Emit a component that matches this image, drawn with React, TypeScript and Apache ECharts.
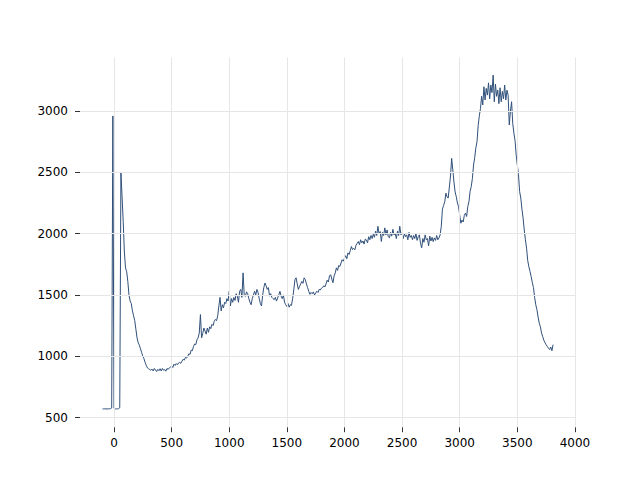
import React, { useEffect, useRef } from "react";
import * as echarts from "echarts";

const xStart = -100;
const xStep = 10;

const values: number[] = [
  570, 570, 571, 570, 570, 571, 571, 572, 578,
  2960, 575, 570, 570, 571, 572, 580, 2500, 2300, 2100,
  1850, 1720, 1690, 1610, 1500, 1450, 1430, 1370, 1330, 1290,
  1220, 1150, 1110, 1090, 1060, 1030, 1000, 980, 950, 925,
  905, 898, 892, 885, 895, 880, 900, 888, 875, 893,
  882, 898, 880, 900, 886, 892, 878, 900, 893, 905,
  912, 920, 908, 935, 925, 940, 930, 945, 950, 942,
  960, 975, 968, 990, 985, 1000, 1020, 1015, 1050, 1045,
  1080, 1100, 1095, 1135, 1150, 1190, 1340, 1150, 1185, 1230,
  1205, 1180, 1230, 1195, 1240, 1225, 1260, 1250, 1285, 1300,
  1290, 1330, 1410, 1480, 1370, 1420, 1395, 1440, 1430, 1470,
  1450, 1530, 1410, 1470, 1440, 1480, 1455, 1510, 1490, 1440,
  1530, 1545, 1480, 1680, 1500, 1488, 1525, 1510, 1470, 1440,
  1420, 1470, 1500, 1530, 1500, 1545, 1520, 1470, 1430, 1410,
  1500, 1560, 1597, 1575, 1545, 1560, 1490, 1510, 1480, 1470,
  1461, 1480, 1450, 1475, 1500, 1529, 1490, 1470, 1500, 1440,
  1420, 1406, 1430, 1400, 1420, 1415, 1470, 1540, 1624, 1640,
  1590, 1545, 1570, 1590, 1610, 1595, 1640, 1625, 1590, 1560,
  1530, 1505, 1520, 1510, 1525, 1500, 1515, 1530, 1520, 1545,
  1540, 1555, 1560, 1575, 1565, 1590, 1620, 1605, 1655, 1665,
  1630, 1600, 1655, 1680, 1721, 1700, 1740, 1732, 1760, 1787,
  1775, 1800, 1820, 1795, 1843, 1830, 1860, 1895, 1870, 1880,
  1868, 1905, 1920, 1936, 1910, 1950, 1925, 1940, 1915, 1955,
  1949, 1925, 1975, 1950, 1985, 1960, 1995, 1970, 2020, 1985,
  2060, 2000, 2017, 1936, 2010, 1985, 2047, 1990, 2030, 1975,
  1966, 2010, 1980, 2035, 1990, 2005, 1960, 2020, 1985, 2060,
  1990, 2007, 1960, 2000, 1975, 1990, 1950, 2010, 1970, 1985,
  1950, 1985, 1960, 2000, 1945, 1975, 1990, 1920, 1884, 1960,
  1930, 1990, 1950, 1960, 1900, 1980, 1940, 1970, 1935, 1965,
  1945, 1985, 1950, 1965, 1990, 2060, 2200, 2230, 2260, 2330,
  2300, 2290, 2380, 2470, 2614, 2520, 2420, 2340, 2302, 2250,
  2220, 2150, 2085, 2110, 2095, 2150, 2167, 2140, 2221, 2260,
  2345, 2384, 2450, 2560, 2620, 2700, 2750, 2880, 2960, 3020,
  3120, 3050, 3198, 3090, 3185, 3130, 3230, 3100, 3212, 3150,
  3293, 3076, 3220, 3120, 3171, 3060, 3190, 3076, 3160, 3100,
  3212, 3090, 3170, 3130, 2886, 3000, 3076, 2900, 2820, 2760,
  2640, 2560, 2480, 2343, 2290, 2200, 2126, 2030, 1950, 1882,
  1780, 1730, 1691, 1650, 1600, 1560, 1480, 1420, 1380, 1320,
  1270, 1240, 1190, 1160, 1130, 1110, 1094, 1080, 1065, 1054,
  1075, 1045, 1094,
];

const xTicks = [0, 500, 1000, 1500, 2000, 2500, 3000, 3500, 4000];
const yTicks = [500, 1000, 1500, 2000, 2500, 3000];

export default function App() {
  const ref = useRef<HTMLDivElement>(null);
  useEffect(() => {
    if (!ref.current) return;
    const chart = echarts.init(ref.current, undefined, { renderer: "svg" });
    const data = values.map((v, i) => [xStart + i * xStep, v]);
    const gridLine = { color: "#e6e6e6", width: 1, type: "solid" as const };
    const tickStyle = { color: "#333", width: 1 };
    const label = {
      color: "#000",
      fontSize: 12,
      fontFamily: "DejaVu Sans",
      formatter: (v: number) => String(v),
    };
    chart.setOption({
      animation: false,
      backgroundColor: "#ffffff",
      grid: { left: 80, right: 64, top: 57.6, bottom: 52.8, containLabel: false },
      xAxis: {
        type: "value",
        min: -295,
        max: 4009,
        splitLine: { show: false },
        axisLine: { show: true, onZero: false, lineStyle: { color: "rgba(0,0,0,0)" } },
        axisTick: {
          show: true,
          customValues: xTicks,
          length: 5,
          lineStyle: tickStyle,
        },
        axisLabel: { ...label, customValues: xTicks, margin: 10 },
      },
      yAxis: {
        type: "value",
        min: 421,
        max: 3436,
        splitLine: { show: false },
        axisLine: { show: true, onZero: false, lineStyle: { color: "rgba(0,0,0,0)" } },
        axisTick: {
          show: true,
          customValues: yTicks,
          length: 5,
          lineStyle: tickStyle,
        },
        axisLabel: { ...label, customValues: yTicks, margin: 12 },
      },
      series: [
        {
          type: "line",
          data: [],
          silent: true,
          markLine: {
            silent: true,
            symbol: ["none", "none"],
            label: { show: false },
            lineStyle: gridLine,
            data: [
              ...xTicks.map((x) => ({ xAxis: x })),
              ...yTicks.map((y) => ({ yAxis: y })),
            ],
          },
        },
        {
          type: "line",
          data,
          showSymbol: false,
          symbol: "none",
          lineStyle: { color: "#30507a", width: 1 },
          itemStyle: { color: "#30507a" },
        },
      ],
    });
    return () => chart.dispose();
  }, []);
  return (
    <div
      ref={ref}
      style={{ position: "fixed", left: 0, top: 0, width: 640, height: 480 }}
    />
  );
}
